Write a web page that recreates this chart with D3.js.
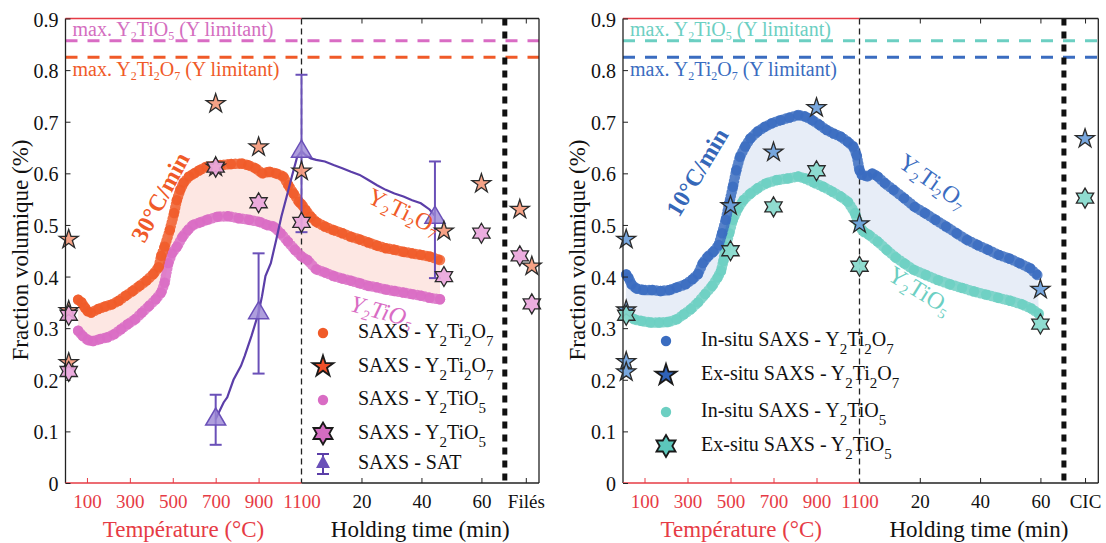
<!DOCTYPE html>
<html><head><meta charset="utf-8">
<script src="https://cdn.jsdelivr.net/npm/d3@7"></script>
<style>
body{margin:0;background:#fff}
svg{display:block}
</style>
</head><body>
<svg id="c" width="1106" height="543"></svg>
<script>
// ---------------- DATA ----------------
const yTicks = [0,0.1,0.2,0.3,0.4,0.5,0.6,0.7,0.8,0.9];
const tempTicks = [100,300,500,700,900,1100];
const timeTicks = [20,40,60];
const finalLabels = ["Filés","CIC"];
const limitY2TiO5 = 0.857;
const limitY2Ti2O7 = 0.825;

// Left panel (30°C/min) - in situ SAXS, heating [T °C, vol%] and holding [t min, vol%]
const L_Ti2O7_heat = [[59,0.355],[75,0.35],[90,0.34],[103,0.333],[119,0.33],[152,0.337],[184,0.342],[216,0.346],[248,0.353],[281,0.363],[313,0.372],[345,0.382],[377,0.392],[410,0.405],[434,0.418],[446,0.44],[462,0.458],[486,0.49],[506,0.523],[519,0.548],[535,0.568],[551,0.582],[576,0.594],[600,0.6],[624,0.606],[657,0.613],[689,0.614],[722,0.616],[771,0.618],[820,0.619],[852,0.616],[885,0.61],[917,0.6],[950,0.603],[982,0.6],[1015,0.594],[1039,0.577],[1063,0.561],[1088,0.545],[1100,0.54]];
const L_Ti2O7_hold = [[1.4,0.529],[3.1,0.516],[4.9,0.506],[7.8,0.497],[10.7,0.49],[13.6,0.484],[16.5,0.477],[19.4,0.472],[22.3,0.466],[25.2,0.46],[28.1,0.455],[31,0.452],[34,0.448],[36.9,0.445],[39.8,0.442],[42.7,0.439],[46.2,0.432]];
const L_TiO5_heat = [[59,0.295],[80,0.285],[104,0.277],[128,0.275],[161,0.279],[194,0.282],[226,0.288],[259,0.298],[291,0.308],[324,0.317],[356,0.33],[389,0.343],[421,0.356],[446,0.369],[462,0.388],[479,0.426],[496,0.445],[520,0.458],[545,0.477],[570,0.49],[594,0.5],[627,0.505],[660,0.51],[709,0.516],[758,0.517],[807,0.513],[856,0.51],[905,0.506],[938,0.5],[970,0.497],[1003,0.484],[1036,0.468],[1069,0.452],[1100,0.439]];
const L_TiO5_hold = [[2,0.432],[4.9,0.414],[7.8,0.408],[10.7,0.401],[13.6,0.396],[16.5,0.392],[19.4,0.387],[22.3,0.382],[25.2,0.379],[28.1,0.375],[31,0.372],[34,0.369],[36.9,0.366],[39.8,0.363],[42.7,0.359],[46.2,0.356]];
// SAT
const L_SAT_heat = [[700,0.124],[737,0.156],[754,0.166],[783,0.2],[818,0.227],[835,0.246],[867,0.285],[900,0.33],[916,0.362],[932,0.401],[957,0.426],[982,0.471],[1006,0.516],[1031,0.555],[1055,0.594],[1080,0.632],[1100,0.643]];
const L_SAT_hold = [[1.4,0.635],[3.1,0.629],[4.9,0.626],[7.8,0.623],[10.7,0.616],[13.6,0.61],[16.5,0.603],[19.4,0.597],[22.3,0.587],[25.2,0.577],[28.1,0.568],[31,0.561],[34,0.555],[36.9,0.548],[39.8,0.542],[42.7,0.53],[44.5,0.518]];
// [x, value, low, high]
const L_SAT_pts_heat = [[700,0.124,0.074,0.171],[900,0.33,0.212,0.445],[1100,0.643,0.486,0.791]];
const L_SAT_pts_hold = [[44.5,0.515,0.397,0.623]];
// ex situ stars
const L_star_Ti2O7_heat = [[15,0.472],[15,0.334],[15,0.233],[700,0.735],[700,0.612],[900,0.651],[1100,0.604]];
const L_star_Ti2O7_hold = [[47.5,0.488],[60,0.58]];
const L_star_Ti2O7_final = [0.53,0.42];
const L_star_TiO5_heat = [[15,0.325],[15,0.216],[700,0.612],[900,0.543],[1100,0.505]];
const L_star_TiO5_hold = [[47.5,0.40],[60,0.484]];
const L_star_TiO5_final = [0.44,0.347];

// Right panel (10°C/min)
const R_Ti2O7_heat = [[15,0.404],[25,0.398],[40,0.385],[61,0.377],[94,0.374],[135,0.374],[176,0.372],[217,0.374],[250,0.379],[291,0.385],[324,0.395],[349,0.405],[371,0.426],[395,0.439],[420,0.448],[445,0.461],[461,0.484],[478,0.51],[494,0.542],[511,0.574],[527,0.606],[544,0.632],[568,0.652],[593,0.668],[626,0.681],[659,0.69],[692,0.697],[733,0.703],[774,0.708],[815,0.713],[848,0.71],[881,0.703],[914,0.694],[947,0.684],[980,0.677],[1013,0.671],[1046,0.661],[1071,0.652],[1087,0.635],[1100,0.606]];
const R_Ti2O7_hold = [[0.8,0.597],[2.6,0.594],[4.3,0.6],[6,0.594],[8.4,0.581],[11.3,0.568],[14.8,0.552],[18.3,0.535],[21.7,0.523],[25.2,0.51],[28.7,0.497],[32.2,0.484],[35.7,0.471],[39.2,0.461],[42.6,0.452],[46.2,0.442],[49.7,0.435],[53.1,0.426],[56.6,0.416],[59,0.403]];
const R_TiO5_heat = [[12,0.334],[28,0.324],[53,0.317],[86,0.314],[127,0.311],[168,0.311],[209,0.312],[250,0.317],[283,0.327],[316,0.337],[349,0.35],[382,0.366],[415,0.382],[440,0.398],[456,0.411],[467,0.43],[478,0.458],[494,0.484],[511,0.51],[535,0.532],[560,0.548],[593,0.561],[626,0.571],[667,0.581],[716,0.587],[766,0.59],[815,0.594],[848,0.59],[889,0.582],[931,0.574],[972,0.565],[1013,0.555],[1046,0.545],[1079,0.523],[1100,0.497]];
const R_TiO5_hold = [[1.4,0.487],[3.1,0.481],[6,0.468],[9,0.452],[12,0.437],[15,0.425],[18,0.413],[22,0.403],[26,0.393],[30,0.385],[34,0.378],[38,0.371],[42,0.365],[46,0.359],[50,0.353],[54,0.346],[57,0.338],[59.5,0.328]];
const R_star_Ti2O7_heat = [[15,0.472],[15,0.335],[15,0.235],[15,0.215],[500,0.537],[700,0.641],[900,0.727],[1100,0.502]];
const R_star_Ti2O7_hold = [[60,0.375]];
const R_star_Ti2O7_final = [0.667];
const R_star_TiO5_heat = [[15,0.325],[500,0.45],[700,0.535],[900,0.605],[1100,0.42]];
const R_star_TiO5_hold = [[60,0.308]];
const R_star_TiO5_final = [0.552];

// ---------------- DRAWING ----------------
const FONT = "'Liberation Serif', 'DejaVu Serif', serif";
const svg = d3.select("#c");
const yTop = 18.5, yBot = 483;
const y = d3.scaleLinear([0,0.9],[yBot,yTop]);
const RED = "#e63b45";
const holdDomain = [0,79.2], sepTime = 67.8, finalTime = 74.8;

function starPath(n, R, r){
  const pts=[];
  for(let i=0;i<2*n;i++){
    const a = -Math.PI/2 + i*Math.PI/n;
    const rr = i%2===0?R:r;
    pts.push([rr*Math.cos(a), rr*Math.sin(a)]);
  }
  return "M"+pts.map(p=>p[0].toFixed(2)+","+p[1].toFixed(2)).join("L")+"Z";
}
const pent = R=>starPath(5,R,R*0.382);
const hexa = R=>starPath(6,R,R*0.577);

function rich(t, str, subSize, shift){
  const parts = str.split(/(_\d)/).filter(s=>s.length);
  let lowered=false;
  parts.forEach(p=>{
    if(p[0]==="_"){
      t.append("tspan").attr("font-size",subSize).attr("dy",shift).text(p[1]);
      lowered=true;
    } else {
      const ts=t.append("tspan").text(p);
      if(lowered){ts.attr("dy",-shift); lowered=false;}
    }
  });
  return t;
}

function panel(cfg){
  const g = svg.append("g");
  const xT = d3.scaleLinear([0,1100],[cfg.x0,cfg.xm]);
  const xt = d3.scaleLinear(holdDomain,[cfg.xm,cfg.x1]);
  const toPx = (heat,hold)=>heat.map(d=>[xT(d[0]),y(d[1])]).concat(hold.map(d=>[xt(d[0]),y(d[1])]));
  const up = toPx(cfg.upHeat,cfg.upHold), lo = toPx(cfg.loHeat,cfg.loHold);
  // shaded band
  g.append("path").attr("d", d3.line()(up.concat(lo.slice().reverse()))+"Z")
    .attr("fill",cfg.band).attr("stroke","none");
  // limit lines
  [[limitY2TiO5,cfg.cLo],[limitY2Ti2O7,cfg.cUpLine]].forEach(([v,c])=>{
    g.append("line").attr("x1",cfg.x0).attr("x2",cfg.x1).attr("y1",y(v)).attr("y2",y(v))
      .attr("stroke",c).attr("stroke-width",3).attr("stroke-dasharray","12,10");
  });
  rich(g.append("text").attr("x",cfg.x0+7).attr("y",y(limitY2TiO5)-5).attr("font-size",20).attr("fill",cfg.cLoText),
    "max. Y_2TiO_5 (Y limitant)",12,4);
  rich(g.append("text").attr("x",cfg.x0+7).attr("y",y(limitY2Ti2O7)+19).attr("font-size",20).attr("fill",cfg.cUpLine),
    "max. Y_2Ti_2O_7 (Y limitant)",12,4);
  // vertical separators
  g.append("line").attr("x1",cfg.xm).attr("x2",cfg.xm).attr("y1",yTop).attr("y2",yBot)
    .attr("stroke","#222").attr("stroke-width",1.3).attr("stroke-dasharray","6,4");
  g.append("line").attr("x1",xt(sepTime)).attr("x2",xt(sepTime)).attr("y1",yTop).attr("y2",yBot)
    .attr("stroke","#111").attr("stroke-width",5).attr("stroke-dasharray","7,6");
  // dotted in-situ curves
  [[lo,cfg.cLo],[up,cfg.cUp]].forEach(([pts,c])=>{
    g.append("path").attr("d",d3.line()(pts)).attr("fill","none").attr("stroke",c)
      .attr("stroke-width",10.5).attr("stroke-linecap","round").attr("stroke-dasharray","0,3.8").attr("opacity",0.85);
    g.selectAll(null).data(pts).join("circle").attr("cx",d=>d[0]).attr("cy",d=>d[1]).attr("r",5.2)
      .attr("fill",c).attr("opacity",0.8);
  });
  // SAT
  if(cfg.satHeat){
    const sp = toPx(cfg.satHeat,cfg.satHold);
    g.append("path").attr("d",d3.line()(sp)).attr("fill","none").attr("stroke","#5b3ea8").attr("stroke-width",2.2);
    const mk = cfg.satPtsHeat.map(d=>[xT(d[0]),d[1],d[2],d[3]]).concat(cfg.satPtsHold.map(d=>[xt(d[0]),d[1],d[2],d[3]]));
    mk.forEach(([x,v,lo2,hi])=>{
      g.append("line").attr("x1",x).attr("x2",x).attr("y1",y(lo2)).attr("y2",y(hi)).attr("stroke","#6a50b8").attr("stroke-width",2);
      [lo2,hi].forEach(e=>g.append("line").attr("x1",x-6).attr("x2",x+6).attr("y1",y(e)).attr("y2",y(e)).attr("stroke","#6a50b8").attr("stroke-width",2));
      g.append("path").attr("d",`M${x},${y(v)-11}L${x+10},${y(v)+6}L${x-10},${y(v)+6}Z`)
        .attr("fill","#9a86d4").attr("fill-opacity",0.8).attr("stroke","#6a50b8").attr("stroke-width",1.5);
    });
  }
  // ex situ stars
  const drawStars = (heat,hold,fin,shape,fill)=>{
    const pts = toPx(heat,hold);
    fin.forEach((v,i)=>pts.push([xt(finalTime)+(fin.length>1?(i===0?-6:6):0), y(v)]));
    pts.forEach(p=>g.append("path").attr("d",shape(10)).attr("transform",`translate(${p[0]},${p[1]})`)
      .attr("fill",fill).attr("stroke","#2b2b2b").attr("stroke-width",1.3).attr("fill-opacity",0.92));
  };
  drawStars(cfg.sUpHeat,cfg.sUpHold,cfg.sUpFin,pent,cfg.sUpFill);
  drawStars(cfg.sLoHeat,cfg.sLoHold,cfg.sLoFin,hexa,cfg.sLoFill);
  // frame
  g.append("line").attr("x1",cfg.x0).attr("x2",cfg.x0).attr("y1",yTop).attr("y2",yBot).attr("stroke","#222").attr("stroke-width",1.3);
  g.append("line").attr("x1",cfg.x1).attr("x2",cfg.x1).attr("y1",yTop).attr("y2",yBot).attr("stroke","#222").attr("stroke-width",1.3);
  g.append("line").attr("x1",cfg.x0).attr("x2",cfg.xm).attr("y1",yTop).attr("y2",yTop).attr("stroke",RED).attr("stroke-width",1.3);
  g.append("line").attr("x1",cfg.xm).attr("x2",cfg.x1).attr("y1",yTop).attr("y2",yTop).attr("stroke","#222").attr("stroke-width",1.3);
  g.append("line").attr("x1",cfg.x0).attr("x2",cfg.xm).attr("y1",yBot).attr("y2",yBot).attr("stroke",RED).attr("stroke-width",1.5);
  g.append("line").attr("x1",cfg.xm).attr("x2",cfg.x1).attr("y1",yBot).attr("y2",yBot).attr("stroke","#222").attr("stroke-width",1.3);
  // y axis
  const ya = g.append("g").attr("transform",`translate(${cfg.x0},0)`).call(d3.axisLeft(y).tickValues(yTicks).tickSize(-5).tickPadding(7).tickFormat(d3.format("~g")));
  ya.select(".domain").remove();
  ya.selectAll("line").attr("stroke","#222");
  ya.selectAll("text").attr("font-size",20).attr("fill","#111").attr("dy","0.38em");
  // temperature axis
  const xa = g.append("g").attr("transform",`translate(0,${yBot})`).call(d3.axisBottom(xT).tickValues(tempTicks).tickSize(-5).tickPadding(12).tickFormat(d3.format("d")));
  xa.select(".domain").remove();
  xa.selectAll("line").attr("stroke",RED).filter(d=>d===1100).remove();
  xa.selectAll("text").attr("font-size",19).attr("fill",RED);
  // holding axis
  const hv = timeTicks.concat([finalTime]);
  const ha = g.append("g").attr("transform",`translate(0,${yBot})`).call(d3.axisBottom(xt).tickValues(hv).tickSize(-5).tickPadding(12)
     .tickFormat(d=>d===finalTime?cfg.finalLabel:d));
  ha.select(".domain").remove();
  ha.selectAll("line").attr("stroke","#222");
  ha.selectAll("text").attr("font-size",19).attr("fill","#111");
  const ta = g.append("g").attr("transform",`translate(0,${yTop})`).call(d3.axisTop(xt).tickValues(hv).tickSize(-5).tickFormat(""));
  ta.select(".domain").remove();
  ta.selectAll("line").attr("stroke","#222");
  // titles
  g.append("text").attr("x",(cfg.x0+cfg.xm)/2).attr("y",537).attr("text-anchor","middle").attr("font-size",23).attr("fill",RED).text("Température (°C)");
  g.append("text").attr("x",(cfg.xm+cfg.x1)/2).attr("y",537).attr("text-anchor","middle").attr("font-size",23).attr("fill","#111").text("Holding time (min)");
  g.append("text").attr("transform",`translate(${cfg.x0-38},250) rotate(-90)`).attr("text-anchor","middle").attr("font-size",23).attr("fill","#111").text("Fraction volumique (%)");
  // annotations
  cfg.notes.forEach(n=>{
    const t=g.append("text").attr("transform",`translate(${n.x},${n.y}) rotate(${n.r})`).attr("text-anchor","middle").attr("dy","0.35em")
      .attr("font-size",n.fs).attr("fill",n.c).attr("font-weight",n.bold?"bold":"normal").attr("font-style",n.it?"italic":"normal");
    rich(t,n.s,n.fs*0.6,n.fs*0.2);
  });
  // legend
  cfg.legend.forEach((L,i)=>{
    const ly = cfg.legY[i], lx = cfg.legX;
    if(L.type==="dot") g.append("circle").attr("cx",lx).attr("cy",ly).attr("r",5.2).attr("fill",L.c);
    if(L.type==="pent") g.append("path").attr("d",pent(11)).attr("transform",`translate(${lx},${ly})`).attr("fill",L.c).attr("stroke","#1a1a1a").attr("stroke-width",1.8);
    if(L.type==="hexa") g.append("path").attr("d",hexa(11)).attr("transform",`translate(${lx},${ly})`).attr("fill",L.c).attr("stroke","#1a1a1a").attr("stroke-width",1.8);
    if(L.type==="sat"){
      g.append("line").attr("x1",lx).attr("x2",lx).attr("y1",ly-10).attr("y2",ly+10).attr("stroke","#5b3ea8").attr("stroke-width",2);
      [-10,10].forEach(o=>g.append("line").attr("x1",lx-6).attr("x2",lx+6).attr("y1",ly+o).attr("y2",ly+o).attr("stroke","#5b3ea8").attr("stroke-width",2));
      g.append("path").attr("d",`M${lx},${ly-9}L${lx+7},${ly+4}L${lx-7},${ly+4}Z`).attr("fill","#6a50b8");
    }
    rich(g.append("text").attr("x",cfg.legTX).attr("y",ly+5).attr("font-size",20).attr("fill","#111"),L.s,15,8);
  });
}

panel({x0:65.5,xm:301.5,x1:539,finalLabel:finalLabels[0],
  upHeat:L_Ti2O7_heat,upHold:L_Ti2O7_hold,loHeat:L_TiO5_heat,loHold:L_TiO5_hold,
  band:"#fde7e3",cUp:"#f05a28",cUpLine:"#f05a28",cLo:"#d96cc4",cLoText:"#d46ec0",
  satHeat:L_SAT_heat,satHold:L_SAT_hold,satPtsHeat:L_SAT_pts_heat,satPtsHold:L_SAT_pts_hold,
  sUpHeat:L_star_Ti2O7_heat,sUpHold:L_star_Ti2O7_hold,sUpFin:L_star_Ti2O7_final,sUpFill:"#f59a7c",
  sLoHeat:L_star_TiO5_heat,sLoHold:L_star_TiO5_hold,sLoFin:L_star_TiO5_final,sLoFill:"#eaa6dc",
  notes:[{x:160,y:197,r:-62,fs:24,c:"#f05a28",bold:true,s:"30°C/min"},
         {x:404,y:211,r:26,fs:24,c:"#f05a28",s:"Y_2Ti_2O_7"},
         {x:382,y:311,r:15,fs:24,c:"#d96cc4",it:true,s:"Y_2TiO_5"}],
  legX:323,legTX:358,legY:[333,366.5,400,433.5,464],
  legend:[{type:"dot",c:"#f05a28",s:"SAXS - Y_2Ti_2O_7"},{type:"pent",c:"#f0502a",s:"SAXS - Y_2Ti_2O_7"},
          {type:"dot",c:"#d96cc4",s:"SAXS - Y_2TiO_5"},{type:"hexa",c:"#d46cc0",s:"SAXS - Y_2TiO_5"},
          {type:"sat",s:"SAXS - SAT"}]
});

panel({x0:623,xm:859.5,x1:1098.3,finalLabel:finalLabels[1],
  upHeat:R_Ti2O7_heat,upHold:R_Ti2O7_hold,loHeat:R_TiO5_heat,loHold:R_TiO5_hold,
  band:"#e7edf7",cUp:"#3a6cc0",cUpLine:"#3a6cc0",cLo:"#6ccfc2",cLoText:"#6ccfc2",
  sUpHeat:R_star_Ti2O7_heat,sUpHold:R_star_Ti2O7_hold,sUpFin:R_star_Ti2O7_final,sUpFill:"#6d9fdb",
  sLoHeat:R_star_TiO5_heat,sLoHold:R_star_TiO5_hold,sLoFin:R_star_TiO5_final,sLoFill:"#86d9cc",
  notes:[{x:697,y:172,r:-59,fs:24,c:"#3567b8",bold:true,s:"10°C/min"},
         {x:933,y:181,r:35,fs:24,c:"#3a6cc0",s:"Y_2Ti_2O_7"},
         {x:920,y:290,r:32,fs:24,c:"#6ccfc2",s:"Y_2TiO_5"}],
  legX:666,legTX:701,legY:[341,375,412,446],
  legend:[{type:"dot",c:"#3a6cc0",s:"In-situ SAXS - Y_2Ti_2O_7"},{type:"pent",c:"#2f62b8",s:"Ex-situ SAXS - Y_2Ti_2O_7"},
          {type:"dot",c:"#6ccfc2",s:"In-situ SAXS - Y_2TiO_5"},{type:"hexa",c:"#5cc8bc",s:"Ex-situ SAXS - Y_2TiO_5"}]
});

// force serif font on every text (d3 axes set sans-serif on their groups)
svg.selectAll("g").attr("font-family",null);
svg.selectAll("text").style("font-family",FONT);
</script>
</body></html>
